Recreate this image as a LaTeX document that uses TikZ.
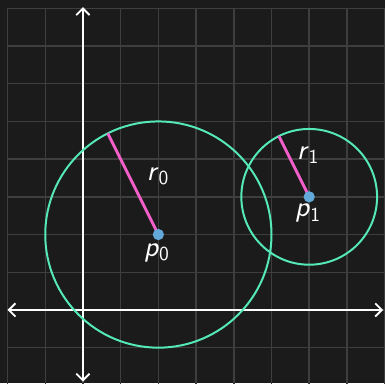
\documentclass[tikz,border=0pt]{standalone}
\usetikzlibrary{arrows.meta,calc}
\definecolor{bg}{HTML}{1B1B1B}
\definecolor{gridc}{HTML}{3E3E3E}
\definecolor{circc}{HTML}{55E8B8}
\definecolor{radc}{HTML}{F25FC9}
\definecolor{ptc}{HTML}{62A8D8}
\tikzset{
  gridline/.style={draw=gridc, line width=1.1pt},
  axis/.style={draw=white, line width=1.5pt, {Straight Barb[length=5pt,width=10pt,line width=1.4pt]}-{Straight Barb[length=5pt,width=10pt,line width=1.4pt]}},
  circ/.style={draw=circc, line width=1.5pt},
  radius/.style={draw=radc, line width=2.2pt},
  pt/.style={circle, fill=ptc, inner sep=0pt, minimum size=0.3cm},
  lab/.style={text=white, font=\fontsize{22}{24}\selectfont\sffamily, inner sep=0pt},
}
\newcommand{\lbl}[2]{\textit{#1}\raisebox{-0.35ex}{\fontsize{15}{16}\selectfont #2}}
\begin{document}
\begin{tikzpicture}
\fill[bg] (-2.2,-1.94) rectangle (8.01,8.22);
\useasboundingbox (-2.2,-1.94) rectangle (8.01,8.22);
\draw[gridline] (-2,-2) grid (8.5,8);
\coordinate (xl) at (-2,0);
\coordinate (xr) at (7.96,0);
\coordinate (yb) at (0,-1.9);
\coordinate (yt) at (0,8.03);
\draw[axis] (xl) -- (xr);
\draw[axis] (yb) -- (yt);
\coordinate (c0) at (2,2);
\coordinate (c1) at (6,3);
\draw[circ] (c0) circle (3);
\draw[circ] (c1) circle (1.8);
\coordinate (e0) at ($(c0)+(116.565:3)$);
\coordinate (e1) at ($(c1)+(116.565:1.8)$);
\draw[radius] (c0) -- (e0);
\draw[radius] (c1) -- (e1);
\node[pt] (p0) at (c0) {};
\node[pt] (p1) at (c1) {};
\node[lab] (r0lab) at (1.98,3.54) {\lbl{r}{0}};
\node[lab] (p0lab) at (1.95,1.51) {\lbl{p}{0}};
\node[lab] (r1lab) at (5.96,4.11) {\lbl{r}{1}};
\node[lab] (p1lab) at (5.96,2.56) {\lbl{p}{1}};
\end{tikzpicture}
\end{document}
